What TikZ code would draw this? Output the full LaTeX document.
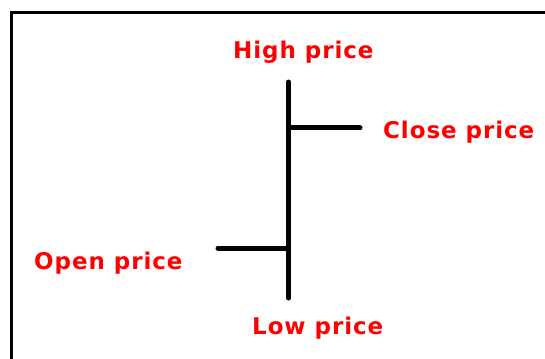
\documentclass[tikz,border=0pt]{standalone}
\usepackage{fontspec}
\setmainfont{DejaVu Sans}
\begin{document}
\begin{tikzpicture}[x=1pt,y=-1pt,
  lbl/.style={text=red,font=\bfseries\fontsize{23}{27}\selectfont\addfontfeature{LetterSpace=4},inner sep=0pt,anchor=base west},
  bar/.style={line width=5pt,line cap=round}]
\useasboundingbox (0,0) rectangle (545,358);
\begin{scope}
\clip (0,0) rectangle (545,358);
\draw[line width=2.5pt] (11.5,12.5) rectangle (600,400);
\end{scope}
\coordinate (top) at (288.5,82);
\coordinate (bot) at (288.5,298);
\coordinate (cl0) at (288.5,128);
\coordinate (cl1) at (360,128);
\coordinate (op0) at (218,248);
\coordinate (op1) at (288.5,248);
\draw[bar] (top) -- (bot);
\draw[bar] (cl0) -- (cl1);
\draw[bar] (op0) -- (op1);
\node[lbl] (high) at (233,59) {High price};
\node[lbl] (close) at (383,139) {Close price};
\node[lbl] (open) at (34,269) {Open price};
\node[lbl] (low) at (252,334) {Low price};
\end{tikzpicture}
\end{document}
